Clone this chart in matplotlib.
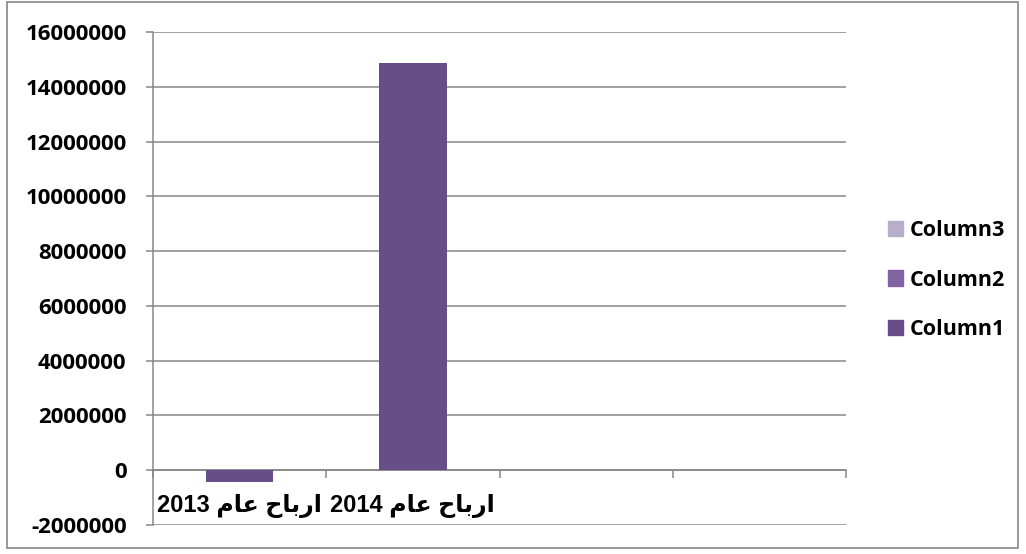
import numpy as np
import matplotlib
matplotlib.use("Agg")
import matplotlib.pyplot as plt
from matplotlib.patches import Patch, Rectangle
from matplotlib.font_manager import FontProperties

# data
categories = ["ارباح عام 2013", "ارباح عام 2014", "", ""]
column1 = [-440000, 14850000, np.nan, np.nan]
column2 = [np.nan, np.nan, np.nan, np.nan]
column3 = [np.nan, np.nan, np.nan, np.nan]
series_names = ["Column1", "Column2", "Column3"]
y_ticks = [-2000000, 0, 2000000, 4000000, 6000000, 8000000,
           10000000, 12000000, 14000000, 16000000]

colors = ["#674E88", "#8064A2", "#B8ADCC"]
grey = "#878787"

# matplotlib has no Arabic shaping, so pick presentation forms by hand
FORMS = {  # isolated, final, initial, medial
    "ا": ("\uFE8D", "\uFE8E", None, None),
    "ر": ("\uFEAD", "\uFEAE", None, None),
    "ب": ("\uFE8F", "\uFE90", "\uFE91", "\uFE92"),
    "ح": ("\uFEA1", "\uFEA2", "\uFEA3", "\uFEA4"),
    "ع": ("\uFEC9", "\uFECA", "\uFECB", "\uFECC"),
    "م": ("\uFEE1", "\uFEE2", "\uFEE3", "\uFEE4"),
}


def dual(c):
    return c in FORMS and FORMS[c][2] is not None


def shape_word(w):
    if not any(c in FORMS for c in w):
        return w
    out = []
    for i, c in enumerate(w):
        if c not in FORMS:
            out.append(c)
            continue
        prev_join = i > 0 and dual(w[i - 1])
        next_join = dual(c) and i + 1 < len(w) and w[i + 1] in FORMS
        iso, fin, ini, med = FORMS[c]
        if prev_join and next_join:
            out.append(med)
        elif prev_join:
            out.append(fin)
        elif next_join:
            out.append(ini)
        else:
            out.append(iso)
    return "".join(out[::-1])


def visual(label):
    return " ".join(shape_word(w) for w in label.split(" ")[::-1])


tick_font = FontProperties(family="Open Sans", weight="bold", size=16)
cat_font = FontProperties(family=["Liberation Sans", "DejaVu Sans"],
                          weight="bold", size=17)
leg_font = FontProperties(family="Open Sans", weight="bold", size=15.5)

fig = plt.figure(figsize=(10.26, 5.54), dpi=100)
fig.patches.append(Rectangle((7 / 1026, 6 / 554), 1011 / 1026, 546 / 554,
                             transform=fig.transFigure, fill=False,
                             edgecolor=grey, linewidth=1.2))
ax = fig.add_axes([153 / 1026, 1 - 525 / 554, 693 / 1026, 493 / 554])

x = np.arange(len(categories))
ax.bar(x, column1, width=0.39, color=colors[0], zorder=3)

ax.set_xlim(-0.5, len(categories) - 0.5)
ax.set_ylim(-2000000, 16000000)
ax.set_yticks(y_ticks)
ax.set_yticklabels([str(v) for v in y_ticks])
ax.yaxis.grid(True, color=grey, linewidth=1.1, zorder=0)
ax.tick_params(axis="y", length=5, width=1.1, color=grey, pad=14)

for s in ["top", "right"]:
    ax.spines[s].set_visible(False)
ax.spines["left"].set_color(grey)
ax.spines["left"].set_linewidth(1.1)
ax.spines["bottom"].set_position(("data", 0))
ax.spines["bottom"].set_color(grey)
ax.spines["bottom"].set_linewidth(1.1)

ax.set_xticks(x)
ax.set_xticklabels([visual(c) for c in categories])
ax.tick_params(axis="x", length=0, pad=17)
ax.set_xticks(np.arange(len(categories) + 1) - 0.5, minor=True)
ax.tick_params(axis="x", which="minor", length=6, width=1.1, color=grey)

for t in ax.get_yticklabels():
    t.set_fontproperties(tick_font)
for t in ax.get_xticklabels():
    t.set_fontproperties(cat_font)

handles = [Patch(color=c, label=n) for c, n in zip(colors, series_names)]
ax.legend(handles[::-1], series_names[::-1], loc="center left",
          bbox_to_anchor=(869 / 1026, 1 - 280 / 554),
          bbox_transform=fig.transFigure, frameon=False, prop=leg_font,
          handlelength=0.7, handleheight=0.7, handletextpad=0.3,
          labelspacing=1.32)

fig.savefig("out.png", dpi=100)
